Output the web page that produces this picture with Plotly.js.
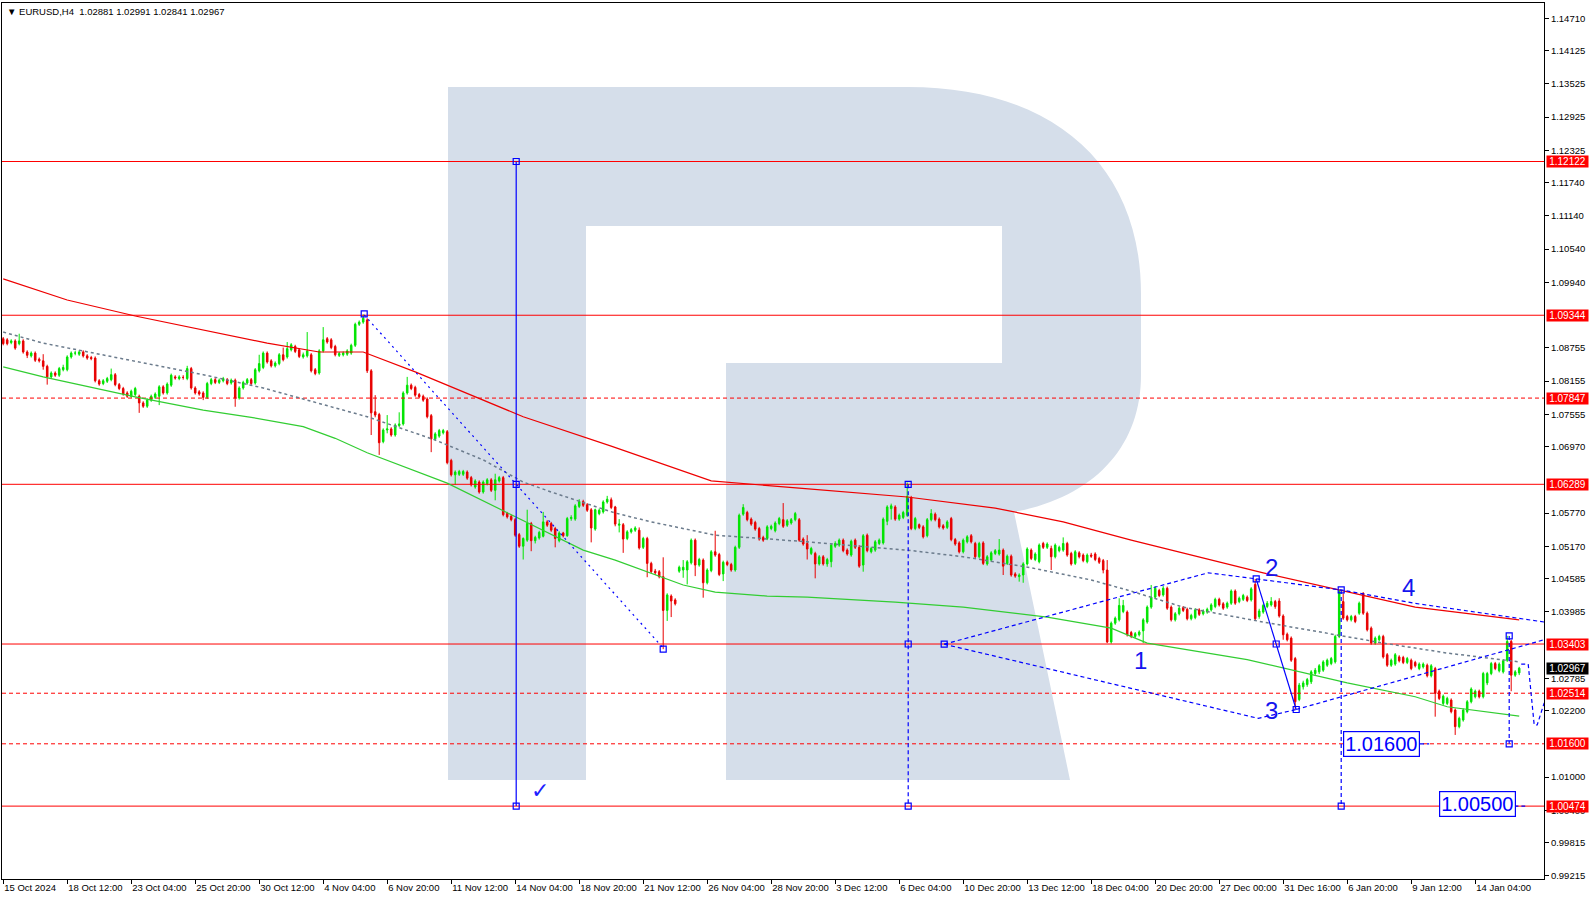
<!DOCTYPE html>
<html><head><meta charset="utf-8">
<script src="https://cdn.plot.ly/plotly-3.0.1.min.js"></script>
<style>html,body{margin:0;padding:0;background:#fff;}#chart{width:1590px;height:900px;}</style>
</head><body><div id="chart"></div>
<script>
// ---------- DATA (EURUSD H4) ----------
const opens=[
1.0892,1.0890,1.0885,1.0888,1.0883,1.0888,1.0868,1.0861,1.0866,1.0855,
1.0852,1.0842,1.0823,1.0830,1.0826,1.0836,1.0836,1.0859,1.0866,1.0864,
1.0868,1.0861,1.0858,1.0857,1.0816,1.0811,1.0815,1.0818,1.0827,1.0809,
1.0802,1.0794,1.0788,1.0791,1.0788,1.0776,1.0770,1.0781,1.0786,1.0788,
1.0805,1.0794,1.0808,1.0823,1.0820,1.0822,1.0820,1.0838,1.0803,1.0796,
1.0794,1.0786,1.0811,1.0818,1.0813,1.0816,1.0818,1.0812,1.0817,1.0785,
1.0803,1.0812,1.0818,1.0812,1.0834,1.0840,1.0866,1.0852,1.0843,1.0847,
1.0863,1.0859,1.0872,1.0878,1.0872,1.0859,1.0861,1.0863,1.0836,1.0830,
1.0870,1.0892,1.0890,1.0878,1.0862,1.0863,1.0864,1.0866,1.0880,1.0918,
1.0922,1.0926,1.0834,1.0760,1.0755,1.0706,1.0727,1.0729,1.0718,1.0735,
1.0738,1.0794,1.0808,1.0804,1.0791,1.0788,1.0783,1.0753,1.0711,1.0716,
1.0722,1.0724,1.0672,1.0646,1.0647,1.0647,1.0651,1.0641,1.0624,1.0633,
1.0615,1.0630,1.0637,1.0618,1.0635,1.0641,1.0576,1.0571,1.0565,1.0538,
1.0517,1.0528,1.0558,1.0527,1.0532,1.0535,1.0561,1.0558,1.0549,1.0527,
1.0541,1.0536,1.0567,1.0566,1.0589,1.0598,1.0592,1.0583,1.0548,1.0576,
1.0579,1.0597,1.0601,1.0588,1.0555,1.0556,1.0531,1.0543,1.0546,1.0546,
1.0515,1.0531,1.0486,1.0472,1.0471,1.0462,1.0401,1.0427,1.0420,1.0472,
1.0474,1.0474,1.0487,1.0528,1.0483,1.0492,1.0451,1.0473,1.0507,1.0502,
1.0467,1.0488,1.0484,1.0474,1.0515,1.0575,1.0578,1.0566,1.0560,1.0549,
1.0533,1.0531,1.0549,1.0545,1.0558,1.0565,1.0555,1.0559,1.0565,1.0565,
1.0530,1.0522,1.0504,1.0504,1.0485,1.0498,1.0485,1.0489,1.0517,1.0519,
1.0528,1.0510,1.0501,1.0528,1.0515,1.0483,1.0537,1.0507,1.0510,1.0522,
1.0523,1.0562,1.0585,1.0588,1.0566,1.0569,1.0573,1.0605,1.0549,1.0556,
1.0552,1.0536,1.0565,1.0575,1.0566,1.0554,1.0551,1.0567,1.0529,1.0523,
1.0507,1.0525,1.0536,1.0522,1.0498,1.0523,1.0485,1.0492,1.0504,1.0503,
1.0510,1.0486,1.0499,1.0467,1.0462,1.0465,1.0485,1.0510,1.0493,1.0489,
1.0522,1.0515,1.0513,1.0498,1.0509,1.0510,1.0522,1.0504,1.0486,1.0505,
1.0501,1.0489,1.0501,1.0503,1.0495,1.0491,1.0474,1.0344,1.0378,1.0384,
1.0399,1.0398,1.0361,1.0354,1.0357,1.0364,1.0380,1.0407,1.0425,1.0437,
1.0429,1.0441,1.0407,1.0384,1.0395,1.0406,1.0403,1.0386,1.0388,1.0402,
1.0395,1.0398,1.0402,1.0408,1.0421,1.0413,1.0407,1.0414,1.0436,1.0417,
1.0421,1.0425,1.0420,1.0448,1.0390,1.0398,1.0408,1.0411,1.0417,1.0418,
1.0391,1.0358,1.0351,1.0314,1.0240,1.0263,1.0267,1.0272,1.0287,1.0290,
1.0293,1.0302,1.0305,1.0308,1.0354,1.0417,1.0390,1.0384,1.0390,1.0396,
1.0432,1.0396,1.0369,1.0342,1.0348,1.0354,1.0321,1.0302,1.0304,1.0317,
1.0316,1.0307,1.0311,1.0307,1.0296,1.0299,1.0302,1.0283,1.0296,1.0255,
1.0233,1.0233,1.0239,1.0221,1.0191,1.0203,1.0218,1.0236,1.0245,1.0255,
1.0245,1.0270,1.0287,1.0305,1.0292,1.0290,1.0311,1.0345,1.0284,1.02881];
const highs=[
1.0895,1.0893,1.0891,1.0891,1.0901,1.0891,1.0871,1.0869,1.0869,1.0858,
1.0864,1.0845,1.0833,1.0833,1.0841,1.0845,1.0862,1.0869,1.0870,1.0871,
1.0871,1.0864,1.0861,1.0860,1.0819,1.0819,1.0823,1.0838,1.0830,1.0812,
1.0805,1.0797,1.0800,1.0805,1.0791,1.0779,1.0784,1.0791,1.0795,1.0808,
1.0808,1.0813,1.0829,1.0826,1.0826,1.0826,1.0843,1.0841,1.0806,1.0799,
1.0797,1.0814,1.0821,1.0821,1.0820,1.0823,1.0821,1.0820,1.0820,1.0806,
1.0816,1.0821,1.0821,1.0839,1.0863,1.0869,1.0869,1.0855,1.0851,1.0866,
1.0876,1.0886,1.0884,1.0881,1.0875,1.0867,1.0904,1.0866,1.0839,1.0873,
1.0913,1.0895,1.0893,1.0881,1.0868,1.0869,1.0873,1.0883,1.0921,1.0925,
1.0936,1.0929,1.0837,1.0790,1.0758,1.0730,1.0754,1.0732,1.0739,1.0759,
1.0797,1.0823,1.0811,1.0807,1.0794,1.0791,1.0786,1.0756,1.0723,1.0729,
1.0729,1.0727,1.0675,1.0654,1.0655,1.0655,1.0654,1.0644,1.0638,1.0636,
1.0636,1.0640,1.0640,1.0648,1.0644,1.0644,1.0579,1.0574,1.0568,1.0541,
1.0533,1.0583,1.0561,1.0536,1.0545,1.0579,1.0564,1.0561,1.0552,1.0544,
1.0543,1.0570,1.0573,1.0593,1.0602,1.0601,1.0595,1.0586,1.0585,1.0585,
1.0600,1.0608,1.0605,1.0590,1.0566,1.0559,1.0546,1.0550,1.0553,1.0551,
1.0534,1.0534,1.0489,1.0476,1.0474,1.0497,1.0432,1.0430,1.0423,1.0482,
1.0492,1.0492,1.0531,1.0531,1.0496,1.0495,1.0477,1.0510,1.0545,1.0505,
1.0491,1.0491,1.0487,1.0518,1.0576,1.0593,1.0581,1.0569,1.0563,1.0552,
1.0536,1.0555,1.0556,1.0562,1.0570,1.0595,1.0566,1.0568,1.0579,1.0568,
1.0533,1.0537,1.0516,1.0507,1.0501,1.0501,1.0496,1.0522,1.0526,1.0531,
1.0531,1.0513,1.0529,1.0531,1.0519,1.0539,1.0540,1.0516,1.0528,1.0531,
1.0569,1.0591,1.0594,1.0591,1.0576,1.0581,1.0632,1.0608,1.0570,1.0558,
1.0555,1.0568,1.0584,1.0578,1.0569,1.0557,1.0564,1.0570,1.0532,1.0526,
1.0531,1.0537,1.0539,1.0525,1.0525,1.0526,1.0501,1.0508,1.0512,1.0530,
1.0513,1.0502,1.0502,1.0470,1.0468,1.0488,1.0515,1.0513,1.0506,1.0522,
1.0525,1.0524,1.0518,1.0522,1.0518,1.0533,1.0525,1.0507,1.0510,1.0508,
1.0504,1.0504,1.0505,1.0506,1.0498,1.0494,1.0492,1.0381,1.0390,1.0423,
1.0420,1.0401,1.0364,1.0362,1.0365,1.0387,1.0410,1.0447,1.0445,1.0440,
1.0445,1.0444,1.0410,1.0398,1.0408,1.0409,1.0406,1.0395,1.0405,1.0405,
1.0403,1.0406,1.0414,1.0424,1.0424,1.0416,1.0417,1.0439,1.0439,1.0426,
1.0431,1.0428,1.0443,1.0458,1.0404,1.0413,1.0418,1.0425,1.0420,1.0423,
1.0394,1.0361,1.0354,1.0317,1.0270,1.0274,1.0279,1.0293,1.0297,1.0304,
1.0311,1.0314,1.0317,1.0357,1.0438,1.0432,1.0393,1.0393,1.0393,1.0417,
1.0434,1.0399,1.0372,1.0354,1.0357,1.0357,1.0324,1.0314,1.0324,1.0320,
1.0319,1.0317,1.0314,1.0310,1.0307,1.0307,1.0305,1.0304,1.0299,1.0258,
1.0249,1.0245,1.0242,1.0224,1.0209,1.0224,1.0239,1.0262,1.0258,1.0258,
1.0290,1.0290,1.0308,1.0308,1.0307,1.0313,1.0355,1.0348,1.0293,1.02991];
const lows=[
1.0880,1.0880,1.0882,1.0872,1.0880,1.0865,1.0857,1.0858,1.0850,1.0849,
1.0836,1.0809,1.0820,1.0823,1.0823,1.0833,1.0833,1.0856,1.0862,1.0861,
1.0858,1.0854,1.0853,1.0813,1.0807,1.0808,1.0812,1.0815,1.0806,1.0799,
1.0789,1.0785,1.0785,1.0788,1.0758,1.0767,1.0767,1.0778,1.0783,1.0772,
1.0791,1.0791,1.0805,1.0818,1.0817,1.0818,1.0817,1.0800,1.0791,1.0789,
1.0781,1.0783,1.0808,1.0810,1.0810,1.0813,1.0808,1.0809,1.0769,1.0782,
1.0800,1.0809,1.0808,1.0809,1.0831,1.0837,1.0847,1.0840,1.0840,1.0844,
1.0851,1.0856,1.0869,1.0866,1.0857,1.0856,1.0858,1.0831,1.0826,1.0827,
1.0867,1.0883,1.0873,1.0860,1.0859,1.0860,1.0861,1.0863,1.0877,1.0915,
1.0919,1.0830,1.0718,1.0750,1.0682,1.0703,1.0721,1.0715,1.0715,1.0732,
1.0735,1.0791,1.0799,1.0787,1.0784,1.0778,1.0748,1.0687,1.0708,1.0713,
1.0719,1.0665,1.0643,1.0628,1.0644,1.0644,1.0637,1.0625,1.0621,1.0612,
1.0612,1.0627,1.0615,1.0600,1.0632,1.0571,1.0567,1.0562,1.0534,1.0514,
1.0493,1.0525,1.0508,1.0522,1.0529,1.0533,1.0552,1.0543,1.0515,1.0524,
1.0533,1.0534,1.0563,1.0563,1.0586,1.0588,1.0579,1.0524,1.0545,1.0573,
1.0576,1.0594,1.0584,1.0553,1.0542,1.0505,1.0528,1.0540,1.0543,1.0511,
1.0512,1.0461,1.0468,1.0465,1.0459,1.0331,1.0382,1.0389,1.0410,1.0469,
1.0460,1.0448,1.0484,1.0463,1.0480,1.0424,1.0448,1.0470,1.0498,1.0463,
1.0454,1.0481,1.0471,1.0471,1.0512,1.0572,1.0562,1.0554,1.0545,1.0527,
1.0525,1.0528,1.0546,1.0542,1.0555,1.0550,1.0552,1.0556,1.0562,1.0525,
1.0518,1.0493,1.0501,1.0459,1.0482,1.0482,1.0480,1.0479,1.0514,1.0516,
1.0506,1.0500,1.0498,1.0512,1.0478,1.0471,1.0506,1.0504,1.0507,1.0519,
1.0520,1.0555,1.0565,1.0563,1.0563,1.0566,1.0570,1.0546,1.0546,1.0548,
1.0531,1.0533,1.0562,1.0562,1.0549,1.0547,1.0548,1.0526,1.0518,1.0504,
1.0504,1.0522,1.0522,1.0495,1.0495,1.0483,1.0482,1.0489,1.0501,1.0500,
1.0465,1.0483,1.0462,1.0460,1.0453,1.0451,1.0482,1.0492,1.0490,1.0486,
1.0512,1.0512,1.0474,1.0495,1.0506,1.0507,1.0498,1.0482,1.0483,1.0495,
1.0488,1.0486,1.0496,1.0490,1.0485,1.0468,1.0342,1.0341,1.0375,1.0381,
1.0396,1.0354,1.0351,1.0351,1.0354,1.0342,1.0377,1.0404,1.0422,1.0425,
1.0426,1.0402,1.0381,1.0381,1.0392,1.0398,1.0383,1.0383,1.0385,1.0391,
1.0392,1.0395,1.0399,1.0405,1.0408,1.0402,1.0404,1.0411,1.0411,1.0414,
1.0418,1.0416,1.0417,1.0383,1.0386,1.0395,1.0405,1.0408,1.0404,1.0388,
1.0348,1.0345,1.0308,1.0222,1.0237,1.0258,1.0263,1.0268,1.0283,1.0286,
1.0290,1.0299,1.0302,1.0305,1.0351,1.0384,1.0381,1.0381,1.0378,1.0393,
1.0393,1.0363,1.0339,1.0339,1.0345,1.0314,1.0299,1.0299,1.0301,1.0307,
1.0304,1.0304,1.0293,1.0298,1.0293,1.0296,1.0280,1.0280,1.0209,1.0239,
1.0230,1.0230,1.0215,1.0176,1.0188,1.0200,1.0215,1.0233,1.0242,1.0242,
1.0242,1.0266,1.0284,1.0293,1.0289,1.0287,1.0308,1.0255,1.0281,1.02841];
const closes=[
1.0883,1.0883,1.0888,1.0875,1.0888,1.0868,1.0862,1.0866,1.0853,1.0852,
1.0842,1.0823,1.0830,1.0826,1.0838,1.0840,1.0859,1.0866,1.0866,1.0868,
1.0861,1.0857,1.0856,1.0816,1.0810,1.0816,1.0820,1.0827,1.0809,1.0802,
1.0792,1.0788,1.0797,1.0802,1.0776,1.0770,1.0781,1.0788,1.0792,1.0805,
1.0794,1.0810,1.0826,1.0821,1.0823,1.0822,1.0838,1.0803,1.0794,1.0792,
1.0786,1.0811,1.0818,1.0813,1.0817,1.0820,1.0811,1.0817,1.0785,1.0803,
1.0813,1.0818,1.0811,1.0836,1.0847,1.0866,1.0850,1.0843,1.0848,1.0863,
1.0854,1.0874,1.0881,1.0869,1.0860,1.0863,1.0870,1.0834,1.0829,1.0870,
1.0890,1.0886,1.0876,1.0863,1.0865,1.0866,1.0870,1.0880,1.0918,1.0922,
1.0929,1.0834,1.0758,1.0754,1.0704,1.0727,1.0729,1.0718,1.0736,1.0738,
1.0794,1.0808,1.0802,1.0790,1.0787,1.0781,1.0751,1.0711,1.0720,1.0726,
1.0726,1.0668,1.0646,1.0651,1.0652,1.0652,1.0640,1.0628,1.0635,1.0615,
1.0633,1.0637,1.0618,1.0637,1.0641,1.0574,1.0570,1.0565,1.0537,1.0517,
1.0531,1.0558,1.0527,1.0533,1.0542,1.0561,1.0555,1.0546,1.0531,1.0541,
1.0536,1.0567,1.0569,1.0590,1.0598,1.0591,1.0582,1.0550,1.0583,1.0582,
1.0597,1.0602,1.0587,1.0557,1.0557,1.0530,1.0543,1.0547,1.0550,1.0514,
1.0531,1.0486,1.0471,1.0469,1.0462,1.0401,1.0429,1.0418,1.0413,1.0479,
1.0479,1.0489,1.0528,1.0483,1.0493,1.0451,1.0474,1.0507,1.0501,1.0466,
1.0488,1.0484,1.0474,1.0515,1.0573,1.0587,1.0565,1.0557,1.0548,1.0530,
1.0528,1.0552,1.0553,1.0559,1.0567,1.0553,1.0563,1.0565,1.0576,1.0528,
1.0521,1.0512,1.0513,1.0485,1.0498,1.0485,1.0493,1.0519,1.0522,1.0528,
1.0509,1.0503,1.0526,1.0515,1.0481,1.0536,1.0509,1.0513,1.0525,1.0528,
1.0566,1.0588,1.0590,1.0566,1.0573,1.0578,1.0607,1.0549,1.0567,1.0551,
1.0534,1.0565,1.0576,1.0565,1.0552,1.0550,1.0561,1.0529,1.0521,1.0507,
1.0528,1.0534,1.0525,1.0498,1.0522,1.0486,1.0498,1.0505,1.0509,1.0510,
1.0481,1.0499,1.0465,1.0463,1.0465,1.0485,1.0512,1.0495,1.0503,1.0519,
1.0515,1.0521,1.0498,1.0519,1.0515,1.0522,1.0501,1.0485,1.0507,1.0498,
1.0491,1.0501,1.0499,1.0493,1.0488,1.0474,1.0344,1.0378,1.0387,1.0410,
1.0410,1.0357,1.0354,1.0359,1.0362,1.0384,1.0407,1.0425,1.0441,1.0428,
1.0441,1.0405,1.0384,1.0395,1.0405,1.0401,1.0386,1.0392,1.0402,1.0394,
1.0400,1.0403,1.0411,1.0421,1.0411,1.0405,1.0414,1.0436,1.0414,1.0423,
1.0428,1.0419,1.0440,1.0386,1.0400,1.0410,1.0414,1.0417,1.0408,1.0391,
1.0357,1.0348,1.0311,1.0236,1.0266,1.0270,1.0276,1.0290,1.0293,1.0301,
1.0308,1.0311,1.0314,1.0354,1.0435,1.0387,1.0384,1.0390,1.0381,1.0414,
1.0396,1.0366,1.0342,1.0351,1.0354,1.0317,1.0302,1.0311,1.0321,1.0310,
1.0307,1.0314,1.0296,1.0301,1.0304,1.0304,1.0283,1.0301,1.0251,1.0242,
1.0246,1.0242,1.0218,1.0191,1.0206,1.0221,1.0236,1.0259,1.0255,1.0245,
1.0287,1.0287,1.0305,1.0296,1.0304,1.0310,1.0345,1.0284,1.0290,1.02967];

const xTickIdx=[0,16,32,48,64,80,96,112,128,144,160,176,192,208,224,240,256,272,288,304,320,336,352,368];
const xTickText=["15 Oct 2024","18 Oct 12:00","23 Oct 04:00","25 Oct 20:00","30 Oct 12:00","4 Nov 04:00","6 Nov 20:00","11 Nov 12:00","14 Nov 04:00","18 Nov 20:00","21 Nov 12:00","26 Nov 04:00","28 Nov 20:00","3 Dec 12:00","6 Dec 04:00","10 Dec 20:00","13 Dec 12:00","18 Dec 04:00","20 Dec 20:00","27 Dec 00:00","31 Dec 16:00","6 Jan 20:00","9 Jan 12:00","14 Jan 04:00"];
const yTickVals=[1.14710,1.14125,1.13525,1.12925,1.12325,1.11740,1.11140,1.10540,1.09940,1.08755,1.08155,1.07555,1.06970,1.05770,1.05170,1.04585,1.03985,1.02785,1.02200,1.01000,1.00400,0.99815,0.99215];

const solidLevels=[1.12122,1.09344,1.06289,1.03403,1.00474];
const dashedLevels=[1.07847,1.02514,1.01600];
const tagLevels=[1.12122,1.09344,1.07847,1.06289,1.03403,1.02514,1.01600,1.00474];
const lastPrice=1.02967;

const maRedIdx=[0,16,33,66,79,90,103,130,152,177,199,226,248,265,282,315,353,379];
const maRedVal=[1.1000,1.0962,1.0933,1.0884,1.0868,1.0868,1.0832,1.0751,1.0698,1.0635,1.0622,1.0606,1.0586,1.0561,1.0528,1.0469,1.0407,1.0384];
const maGrayIdx=[0,10,50,65,75,91,108,120,130,137,153,162,178,201,226,240,257,272,281,295,315,345,361,379];
const maGrayVal=[1.0904,1.0884,1.0827,1.0803,1.0783,1.0751,1.0709,1.0673,1.0633,1.0615,1.0577,1.0561,1.0537,1.0525,1.0510,1.0498,1.0478,1.0456,1.0438,1.0407,1.0380,1.0342,1.0324,1.0308];
const maGreenIdx=[0,10,33,50,62,75,83,91,111,130,145,153,165,170,178,191,201,223,240,261,277,286,311,336,353,361,379];
const maGreenVal=[1.0841,1.0823,1.0787,1.0763,1.0750,1.0733,1.0712,1.0686,1.0631,1.0564,1.0510,1.0492,1.0461,1.0447,1.0434,1.0427,1.0425,1.0416,1.0407,1.0389,1.0369,1.0342,1.0312,1.0270,1.0245,1.0227,1.0210];

// analysis drawings (bar index, price)
const blueSolidLines=[
  {x:[128.25,128.25],y:[1.12122,1.00474]},
  {x:[313.25,318.25,323.25],y:[1.0458,1.03403,1.0222]}
];
const blueDottedLines=[
  {x:[90.25,165],y:[1.0935,1.0333]}
];
const blueDashedLines=[
  {x:[226.25,226.25],y:[1.06289,1.00474]},
  {x:[235.25,301.25,313.25,334.5,352.75,379.5,385.25],y:[1.0340,1.0469,1.0458,1.0438,1.0414,1.0385,1.0380]},
  {x:[235.25,313.75,323.25],y:[1.0340,1.0206,1.0222]},
  {x:[323.25,334.5,385.25],y:[1.0222,1.0245,1.0348]},
  {x:[334.5,334.5],y:[1.0438,1.00474]},
  {x:[376.5,376.5],y:[1.0355,1.0160]},
  {x:[379.5,381.25,382.75,383.5,385.25],y:[1.0304,1.0304,1.0194,1.0194,1.0234]}
];
const boxLinks=[
  {x:[354.2,356.5],y:[1.0160,1.0160]},
  {x:[377.8,380.5],y:[1.00474,1.00474]}
];
const markerIdx=[128.25,128.25,128.25,90.25,165,226.25,226.25,226.25,235.25,313.25,318.25,323.25,334.5,334.5,376.5,376.5];
const markerVal=[1.12122,1.06289,1.00474,1.0937,1.0331,1.06289,1.03403,1.00474,1.0340,1.0458,1.03403,1.0222,1.0438,1.00474,1.0355,1.0160];
const waveLabels=[{t:"1",x:284.25,y:1.0310},{t:"2",x:317,y:1.0479},{t:"3",x:317,y:1.0221},{t:"4",x:351.25,y:1.0443}];
const targetBoxes=[{t:"1.01600",x:344.6,y:1.0159},{t:"1.00500",x:368.5,y:1.00513}];

// ---------- BUILD ----------
const idx=opens.map((_,i)=>i);
const X0=-0.3, X1=385.2;
const FONT='Liberation Sans, Arial, sans-serif';
const traces=[];
solidLevels.forEach(v=>traces.push({type:'scatter',mode:'lines',x:[X0,X1],y:[v,v],line:{color:'#ff0000',width:1},hoverinfo:'skip'}));
dashedLevels.forEach(v=>traces.push({type:'scatter',mode:'lines',x:[X0,X1],y:[v,v],line:{color:'#ff0000',width:1,dash:'4px,3px'},hoverinfo:'skip'}));
traces.push({type:'scatter',mode:'lines',x:maRedIdx,y:maRedVal,line:{color:'#ee0000',width:1.2},hoverinfo:'skip'});
traces.push({type:'scatter',mode:'lines',x:maGrayIdx,y:maGrayVal,line:{color:'#6b7b8c',width:1.5,dash:'3px,3px'},hoverinfo:'skip'});
traces.push({type:'scatter',mode:'lines',x:maGreenIdx,y:maGreenVal,line:{color:'#32cd32',width:1.2},hoverinfo:'skip'});
traces.push({type:'candlestick',x:idx,open:opens,high:highs,low:lows,close:closes,
  increasing:{line:{color:'#00e400',width:1},fillcolor:'#00e400'},
  decreasing:{line:{color:'#e80000',width:1},fillcolor:'#e80000'},
  whiskerwidth:0,hoverinfo:'skip'});
blueSolidLines.forEach(l=>traces.push({type:'scatter',mode:'lines',x:l.x,y:l.y,line:{color:'#0000ff',width:1.2},hoverinfo:'skip'}));
blueDottedLines.forEach(l=>traces.push({type:'scatter',mode:'lines',x:l.x,y:l.y,line:{color:'#0000ff',width:1.2,dash:'2px,4px'},hoverinfo:'skip'}));
blueDashedLines.concat(boxLinks).forEach(l=>traces.push({type:'scatter',mode:'lines',x:l.x,y:l.y,line:{color:'#0000ff',width:1.2,dash:'4px,3px'},hoverinfo:'skip'}));
traces.push({type:'scatter',mode:'markers',x:markerIdx,y:markerVal,marker:{symbol:'square-open',size:6,color:'#0000ff',line:{width:1.2,color:'#0000ff'}},hoverinfo:'skip'});
// helper axes in pixel units for the watermark
traces.push({type:'scatter',mode:'markers',x:[2],y:[3],xaxis:'x2',yaxis:'y2',marker:{opacity:0},hoverinfo:'skip'});

const annotations=[];
annotations.push({xref:'paper',yref:'paper',x:0,y:1,xanchor:'left',yanchor:'top',xshift:3,yshift:-1,showarrow:false,
  text:'▼ EURUSD,H4  1.02881 1.02991 1.02841 1.02967',font:{family:FONT,size:9.5,color:'#000'}});
tagLevels.forEach(v=>annotations.push({xref:'paper',yref:'y',x:1,y:v,xanchor:'left',xshift:2,showarrow:false,
  text:v.toFixed(5),font:{family:FONT,size:10,color:'#fff'},bgcolor:'#ff0000',borderpad:0,width:41,height:11}));
annotations.push({xref:'paper',yref:'y',x:1,y:lastPrice,xanchor:'left',xshift:2,showarrow:false,
  text:lastPrice.toFixed(5),font:{family:FONT,size:10,color:'#fff'},bgcolor:'#000000',borderpad:0,width:41,height:11});
waveLabels.forEach(w=>annotations.push({x:w.x,y:w.y,showarrow:false,text:w.t,font:{family:FONT,size:24,color:'#1515ee'}}));
targetBoxes.forEach(b=>annotations.push({x:b.x,y:b.y,showarrow:false,text:b.t,
  font:{family:FONT,size:20,color:'#0000ff'},
  bgcolor:'#ffffff',bordercolor:'#0000ff',borderwidth:1.2,borderpad:1}));
annotations.push({x:134.25,y:1.0075,showarrow:false,text:'✓',font:{family:'DejaVu Sans',size:22,color:'#2020ff'}});

const rPath='M448,87 L908,87 C1050,87 1141,162 1141,294 L1141,375 C1141,446 1095,497 1014,512 L1070,780 L726,780 L726,363 L1002,363 L1002,226 L586,226 L586,780 L448,780 Z';

const layout={
  width:1590,height:900,
  margin:{l:2,r:46,t:3,b:21,pad:0},
  paper_bgcolor:'#ffffff',plot_bgcolor:'#ffffff',
  showlegend:false,
  font:{family:FONT,size:10,color:'#000'},
  boxgap:0.45,
  xaxis:{range:[X0,X1],showgrid:false,zeroline:false,showline:true,linecolor:'#000',linewidth:1,mirror:true,
    ticks:'outside',ticklen:4,tickcolor:'#000',tickvals:xTickIdx,ticktext:xTickText,tickangle:0,
    ticklabelposition:'outside right',tickfont:{family:FONT,size:9.5,color:'#000'},
    rangeslider:{visible:false},fixedrange:true},
  yaxis:{side:'right',range:[0.99157,1.14986],showgrid:false,zeroline:false,showline:true,linecolor:'#000',linewidth:1,mirror:true,
    ticks:'outside',ticklen:4,tickcolor:'#000',tickvals:yTickVals,ticktext:yTickVals.map(v=>v.toFixed(5)),
    tickfont:{family:FONT,size:9.5,color:'#000'},fixedrange:true},
  xaxis2:{overlaying:'x',range:[2,1544],visible:false,showgrid:false,zeroline:false,fixedrange:true},
  yaxis2:{overlaying:'y',range:[879,3],visible:false,showgrid:false,zeroline:false,fixedrange:true},
  shapes:[{type:'path',xref:'x2',yref:'y2',path:rPath,fillcolor:'#d5deea',line:{width:0},layer:'below'}],
  annotations:annotations
};
Plotly.newPlot('chart',traces,layout,{staticPlot:true,displayModeBar:false});
</script></body></html>
